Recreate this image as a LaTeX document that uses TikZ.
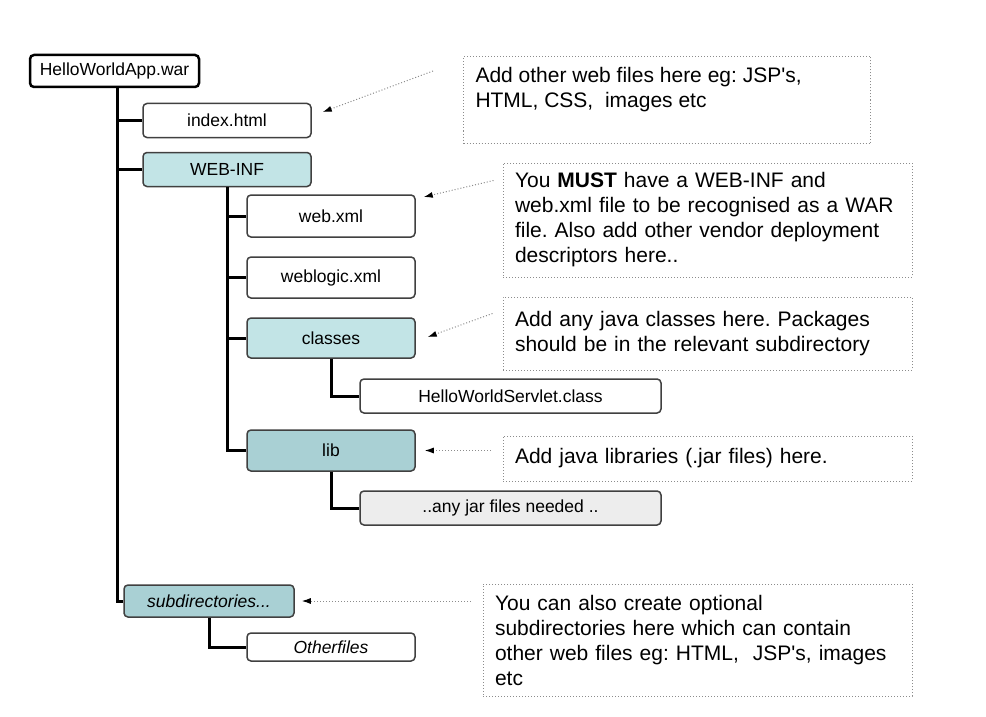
\documentclass[tikz,border=0pt]{standalone}
\usepackage{fontspec}
\setmainfont{Liberation Sans}
\usetikzlibrary{arrows.meta}
\frenchspacing

\definecolor{dirfill}{HTML}{C2E4E6}
\definecolor{libfill}{HTML}{A9D0D4}
\definecolor{jarfill}{HTML}{EDEDED}

\begin{document}
\begin{tikzpicture}[x=1pt, y=-1pt,
    every node/.style={font=\fontsize{17.5}{21}\selectfont, inner sep=0pt},
    file/.style={draw=black!75, line width=1.5pt, rounded corners=4pt, fill=white, minimum width=168, minimum height=34},
    note/.style={draw=black!45, dotted, line width=1pt, font=\fontsize{21}{25}\selectfont, align=left, inner xsep=12pt},
    link/.style={line width=3pt, black, line join=miter},
    callout/.style={draw=black!45, dotted, line width=1pt, -{Latex[black, length=9pt, width=6pt]}}]
            \useasboundingbox (0,0) rectangle (986,717);
            \fill[white] (0,0) rectangle (986,717);
            % Root archive
            \node[file, draw=black, line width=2.5pt, minimum width=169, minimum height=32] (war) at (114.5,71) {HelloWorldApp.war};
            % First level
            \node[file] (index) at (227,120.5) {index.html};
            \node[file, fill=dirfill] (webinf) at (227,169.5) {WEB-INF};
            \node[file, fill=libfill, minimum width=170, minimum height=32] (subdir) at (209,601) {\itshape subdirectories...};
            % Inside WEB-INF
            \node[file, minimum height=42] (webxml) at (331,216) {web.xml};
            \node[file, minimum height=41] (weblogic) at (331,277.5) {weblogic.xml};
            \node[file, fill=dirfill, minimum height=40] (classes) at (331,338) {classes};
            \node[file, fill=libfill, minimum height=41] (lib) at (331,450.5) {lib};
            % Leaves
            \node[file, minimum width=301] (servlet) at (510.5,396) {HelloWorldServlet.class};
            \node[file, fill=jarfill, minimum width=301] (jars) at (510.5,508) {..any jar files needed ..};
            \node[file, minimum height=28] (other) at (331,647) {\itshape Otherfiles};
            % Tree lines
            \foreach \t in {index,webinf,subdir}
                \draw[link] ([xshift=2.5pt]war.south) |- (\t.west);
            \foreach \t in {webxml,weblogic,classes,lib}
                \draw[link] (webinf.south) |- (\t.west);
            \draw[link] (classes.south) |- (servlet.west);
            \draw[link] (lib.south) |- (jars.west);
            \draw[link] (subdir.south) |- (other.west);
            % Notes
            \node[note, anchor=north west, minimum width=407, minimum height=87, inner ysep=10pt] (nweb) at (463,56)
                {\parbox[t][66pt][t]{383pt}{Add other web files here eg: JSP\textquotesingle s,\\HTML, CSS,\ \ images etc}};
            \node[note, minimum width=409, minimum height=114, text width=385] (ninf) at (707.5,220)
                {You \textbf{MUST} have a WEB-INF and\\web.xml file to be recognised as a WAR\\file. Also add other vendor deployment\\descriptors here..};
            \node[note, minimum width=409, minimum height=73, text width=385] (nclass) at (707.5,333.5)
                {Add any java classes here. Packages\\should be in the relevant subdirectory};
            \node[note, minimum width=409, minimum height=45, text width=385] (nlib) at (707.5,458.5)
                {Add java libraries (.jar files) here.};
            \node[note, minimum width=429, minimum height=112, text width=405] (nsub) at (697.5,640)
                {You can also create optional\\subdirectories here which can contain\\other web files eg: HTML,\ \ JSP\textquotesingle s, images\\etc};
            % Pointers
            \draw[callout] ([shift={(-30,15)}]nweb.north west) -- ([shift={(11,-8.5)}]index.east);
            \draw[callout] ([shift={(-9,18)}]ninf.north west) -- ([shift={(8,-19)}]webxml.east);
            \draw[callout] ([shift={(-10,17)}]nclass.north west) -- ([shift={(12,-1)}]classes.east);
            \draw[callout] ([xshift=-12pt]nlib.west |- lib.east) -- ([xshift=9pt]lib.east);
            \draw[callout] ([xshift=-12pt]nsub.west |- subdir.east) -- ([xshift=7pt]subdir.east);
        \end{tikzpicture}
\end{document}
